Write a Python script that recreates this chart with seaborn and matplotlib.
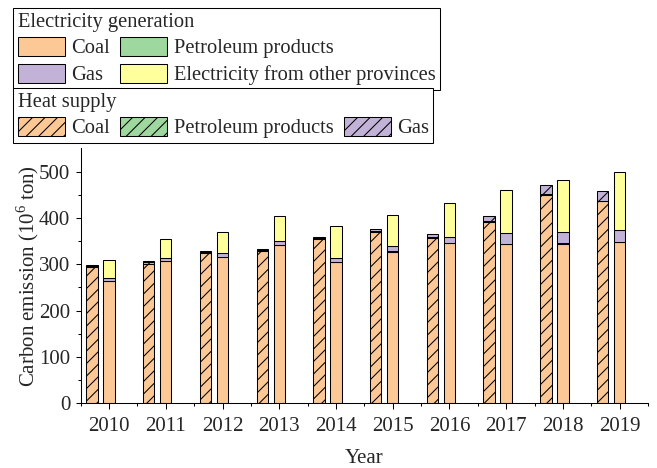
import numpy as np
import matplotlib
matplotlib.use("Agg")
import matplotlib.pyplot as plt
from matplotlib.patches import Patch
from matplotlib.ticker import FixedLocator
import seaborn as sns

# Carbon emission by source (10^6 ton)
years = [2010, 2011, 2012, 2013, 2014, 2015, 2016, 2017, 2018, 2019]

heat_coal = [293.5, 301, 325, 328.5, 354, 369, 357, 391, 450, 436]
heat_petroleum = [3, 4, 2.5, 2.5, 3, 4, 1, 1.5, 1.5, 1]
heat_gas = [1.5, 2.5, 1, 1.5, 1.5, 2.5, 7.5, 11, 20, 22]

elec_coal = [264, 307, 315, 341, 305, 326.5, 345, 343, 344, 347.5]
elec_petroleum = [1, 1, 1, 1, 1, 1.5, 1, 1, 1, 1]
elec_gas = [5, 6, 9, 8, 7, 11, 12, 24, 25, 25]
elec_other = [40, 40, 45, 55, 69, 67, 75, 91.5, 111.5, 126]

C_COAL = "#FCC896"
C_PETRO = "#9ED89E"
C_GAS = "#C2B2D8"
C_OTHER = "#FFFF9C"
HATCH = "//"

sns.set_style("ticks")
plt.rcParams["font.family"] = ["Liberation Serif", "DejaVu Serif"]
plt.rcParams["mathtext.fontset"] = "custom"
plt.rcParams["mathtext.rm"] = "Liberation Serif"
plt.rcParams["hatch.linewidth"] = 1.0
FS = 20
LEG_FS = 19.7

DPI = 75
fig = plt.figure(figsize=(657 / DPI, 468 / DPI), dpi=DPI)
ax = fig.add_axes([0.1228, 0.1382, 0.9863 - 0.1228, 0.6827 - 0.1382])

x = np.arange(len(years))
bw = 0.2
edge = dict(edgecolor="black", linewidth=1.0)

# heat supply stack (hatched)
bottom = np.zeros(len(years))
for vals, col in [(heat_coal, C_COAL), (heat_petroleum, C_PETRO), (heat_gas, C_GAS)]:
    ax.bar(x - 0.3, vals, bw, bottom=bottom, color=col, hatch=HATCH, **edge)
    bottom += np.array(vals)

# electricity generation stack
bottom = np.zeros(len(years))
for vals, col in [(elec_coal, C_COAL), (elec_petroleum, C_PETRO),
                  (elec_gas, C_GAS), (elec_other, C_OTHER)]:
    ax.bar(x, vals, bw, bottom=bottom, color=col, **edge)
    bottom += np.array(vals)

ax.set_xlim(-0.5, 9.5)
ax.set_ylim(0, 550)
ax.set_xticks(x)
ax.set_xticklabels([str(y) for y in years], fontsize=FS)
ax.xaxis.set_minor_locator(FixedLocator(np.arange(-0.5, 10, 1.0)))
ax.set_yticks(np.arange(0, 501, 100))
ax.yaxis.set_minor_locator(FixedLocator(np.arange(50, 500, 100)))
ax.tick_params(axis="both", which="major", direction="out", length=5, width=1,
               labelsize=FS, color="black")
ax.tick_params(axis="both", which="minor", direction="out", length=3, width=1,
               color="black")
ax.tick_params(axis="x", which="major", length=6, pad=7)
ax.tick_params(axis="y", which="major", pad=5)
for s in ["left", "bottom"]:
    ax.spines[s].set_linewidth(1.0)
    ax.spines[s].set_color("black")
sns.despine(ax=ax)

ax.set_xlabel("Year", fontsize=FS, labelpad=12.5)
ax.set_ylabel(r"Carbon emission (10$^{\mathrm{6}}$ ton)", fontsize=FS, labelpad=-2)

leg_kw = dict(loc="upper left", bbox_transform=fig.transFigure, fontsize=LEG_FS,
              title_fontsize=LEG_FS, alignment="left", frameon=True, fancybox=False,
              edgecolor="black", framealpha=1, borderaxespad=0, handlelength=2.3,
              handleheight=1.05, handletextpad=0.3, columnspacing=0.5,
              labelspacing=0.25, borderpad=0.22)

h_elec = [Patch(facecolor=C_COAL, **edge), Patch(facecolor=C_GAS, **edge),
          Patch(facecolor=C_PETRO, **edge), Patch(facecolor=C_OTHER, **edge)]
l_elec = ["Coal", "Gas", "Petroleum products", "Electricity from other provinces"]
leg1 = fig.legend(h_elec, l_elec, ncol=2, title="Electricity generation",
                  bbox_to_anchor=(13.3 / 657, 1 - 8.3 / 468), **leg_kw)
leg1.get_frame().set_linewidth(1.0)

h_heat = [Patch(facecolor=C_COAL, hatch=HATCH, **edge),
          Patch(facecolor=C_PETRO, hatch=HATCH, **edge),
          Patch(facecolor=C_GAS, hatch=HATCH, **edge)]
l_heat = ["Coal", "Petroleum products", "Gas"]
leg2 = fig.legend(h_heat, l_heat, ncol=3, title="Heat supply",
                  bbox_to_anchor=(13.3 / 657, 1 - 88.3 / 468), **leg_kw)
leg2.get_frame().set_linewidth(1.0)

fig.savefig("out.png", dpi=DPI)
